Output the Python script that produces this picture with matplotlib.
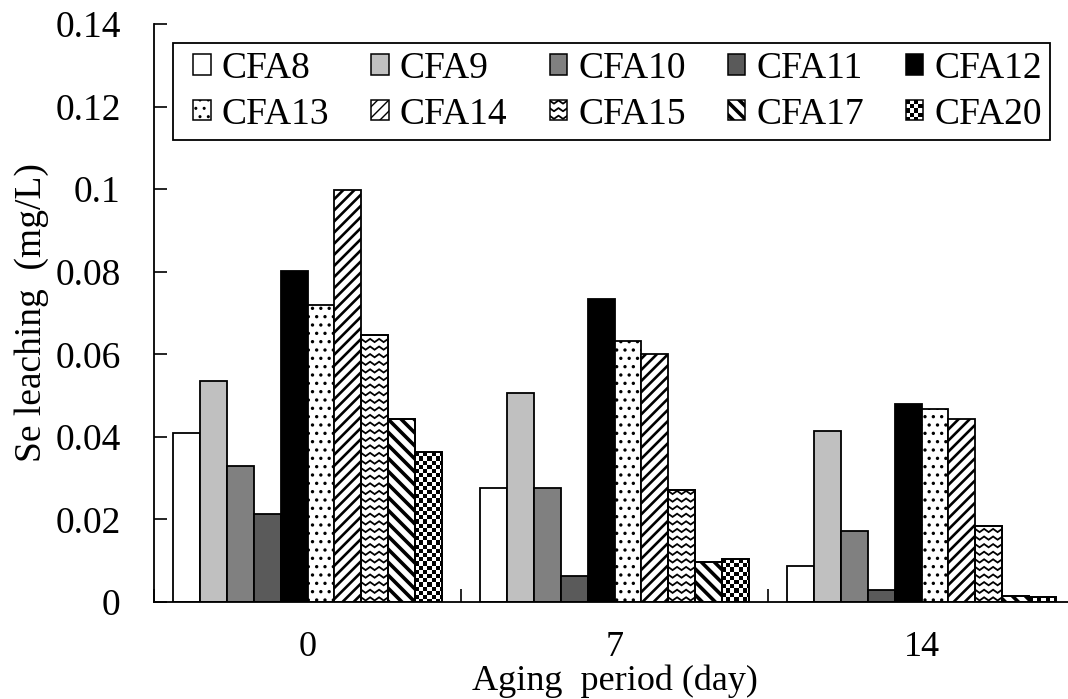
import numpy as np
import matplotlib
matplotlib.use("Agg")
import matplotlib.pyplot as plt
from matplotlib.patches import Rectangle
from matplotlib.collections import PolyCollection
from matplotlib.lines import Line2D
from matplotlib.legend_handler import HandlerBase, HandlerPatch

# ---- data -------------------------------------------------------------
periods = ["0", "7", "14"]
samples = ["CFA8", "CFA9", "CFA10", "CFA11", "CFA12",
           "CFA13", "CFA14", "CFA15", "CFA17", "CFA20"]

cfa8 = [0.041, 0.0277, 0.0088]
cfa9 = [0.0536, 0.0507, 0.0415]
cfa10 = [0.0329, 0.0277, 0.0172]
cfa11 = [0.0214, 0.0064, 0.0029]
cfa12 = [0.0802, 0.0734, 0.048]
cfa13 = [0.0719, 0.0633, 0.0468]
cfa14 = [0.0998, 0.0601, 0.0444]
cfa15 = [0.0647, 0.0271, 0.0184]
cfa17 = [0.0444, 0.0097, 0.0015]
cfa20 = [0.0363, 0.0104, 0.0011]

ytick_values = [0, 0.02, 0.04, 0.06, 0.08, 0.10, 0.12, 0.14]
ytick_labels = ["0", "0.02", "0.04", "0.06", "0.08", "0.1", "0.12", "0.14"]

values = [cfa8, cfa9, cfa10, cfa11, cfa12, cfa13, cfa14, cfa15, cfa17, cfa20]

# fill style per sample: (face colour, builtin hatch, hatch width, drawn pattern)
styles = {
    "CFA8": ("white", None, 1.0, None),
    "CFA9": ("#c0c0c0", None, 1.0, None),
    "CFA10": ("#808080", None, 1.0, None),
    "CFA11": ("#5a5a5a", None, 1.0, None),
    "CFA12": ("black", None, 1.0, None),
    "CFA13": ("white", "..", 1.2, None),
    "CFA14": ("white", "///", 1.9, None),
    "CFA15": ("white", None, 1.0, "zigzag"),
    "CFA17": ("white", None, 1.0, "stripes"),
    "CFA20": ("white", None, 1.0, "checker"),
}

FONT = "Liberation Serif"
FS = 27
FS_X = 26
EDGE_LW = 1.3
DPI = 100

plt.rcParams["font.family"] = [FONT, "DejaVu Serif"]


def pattern_shapes(kind, x0, y0, x1, y1, px):
    """Polylines and squares for the drawn fills, in a frame where one
    pixel is `px` units long."""
    lines, squares = [], []
    cx, cy = (x0 + x1) / 2, (y0 + y1) / 2
    if kind == "zigzag":
        gap, half, amp = 7.6 * px, 4.5 * px, 3.2 * px
        y = y0 + 1.5 * px
        while y < y1 + amp:
            xs = np.arange(x0 - half, x1 + 2 * half, half)
            ys = y + amp * (np.arange(len(xs)) % 2)
            lines.append(np.column_stack([xs, ys]))
            y += gap
    elif kind == "stripes":
        gap = 13 * px
        k0 = int(np.floor((x0 + y0 - cx - cy) / gap)) - 1
        k1 = int(np.ceil((x1 + y1 - cx - cy) / gap)) + 1
        for k in range(k0, k1 + 1):
            c = cx + cy + k * gap
            ya, yb = y0 - gap, y1 + gap
            lines.append(np.array([[c - ya, ya], [c - yb, yb]]))
    elif kind == "checker":
        s = 4.2 * px
        nx = int(np.ceil((x1 - x0) / s)) + 1
        ny = int(np.ceil((y1 - y0) / s)) + 1
        for i in range(nx):
            for j in range(ny):
                if (i + j) % 2 == 0:
                    xa, ya = x0 + i * s, y1 - (j + 1) * s
                    squares.append(np.array([[xa, ya], [xa + s, ya],
                                             [xa + s, ya + s], [xa, ya + s]]))
    return lines, squares


def pattern_lw(kind):
    return {"zigzag": 1.3, "stripes": 2.6}.get(kind, 1.0)


# ---- figure -----------------------------------------------------------
fig = plt.figure(figsize=(10.68, 6.99), dpi=DPI)
ax = fig.add_axes([154 / 1068, 97 / 699, 921 / 1068, 578 / 699])

n = len(samples)
width = 0.873 / n
x = np.arange(len(periods))

ax.set_xlim(-0.5, len(periods) - 0.5)
ax.set_ylim(0, 0.14)
ax.set_autoscale_on(False)

to_data = ax.transData.inverted()

bar_handles = []
for k, (name, vals) in enumerate(zip(samples, values)):
    face, hatch, hatch_lw, kind = styles[name]
    pos = x - 0.873 / 2 + width * (k + 0.5)
    with plt.rc_context({"hatch.linewidth": hatch_lw}):
        bars = ax.bar(pos, vals, width, color=face, edgecolor="black",
                      linewidth=EDGE_LW, hatch=hatch, label=name, zorder=2)
    bar_handles.append(bars.patches[0])
    if kind is None:
        continue
    for b in bars:
        (px0, py0), (px1, py1) = ax.transData.transform(
            [[b.get_x(), b.get_y()], [b.get_x() + b.get_width(), b.get_height()]])
        lines, squares = pattern_shapes(kind, px0, py0, px1, py1, 1.0)
        for ln in lines:
            d = to_data.transform(ln)
            art = Line2D(d[:, 0], d[:, 1], color="black", lw=pattern_lw(kind),
                         solid_joinstyle="miter", zorder=2.5)
            ax.add_line(art)
            art.set_clip_path(b)
        if squares:
            coll = PolyCollection([to_data.transform(sq) for sq in squares],
                                  facecolors="black", edgecolors="none",
                                  zorder=2.5)
            ax.add_collection(coll, autolim=False)
            coll.set_clip_path(b)
        # outline above the pattern
        ax.add_patch(Rectangle((b.get_x(), b.get_y()), b.get_width(),
                               b.get_height(), fill=False, edgecolor="black",
                               linewidth=EDGE_LW, zorder=3))

ax.set_xlim(-0.5, len(periods) - 0.5)
ax.set_ylim(0, 0.14)

# ---- axes styling -----------------------------------------------------
for side in ("top", "right"):
    ax.spines[side].set_visible(False)
for side in ("left", "bottom"):
    ax.spines[side].set_linewidth(1.3)

ax.set_yticks(ytick_values)
ax.set_yticklabels(ytick_labels)
ax.tick_params(axis="y", direction="in", length=9.4, width=1.2, pad=24,
               labelsize=FS)

ax.set_xticks(np.arange(len(periods) + 1) - 0.5)
ax.set_xticklabels([])
ax.set_xticks(x, minor=True)
ax.set_xticklabels(periods, minor=True)
ax.tick_params(axis="x", which="major", direction="in", length=9.4, width=1.2)
ax.tick_params(axis="x", which="minor", length=0, pad=21, labelsize=FS_X)

ax.set_xlabel("Aging  period (day)", fontsize=FS_X, labelpad=0.5)
ax.set_ylabel("Se leaching  (mg/L)", fontsize=FS)
ax.yaxis.set_label_coords(-0.114, 0.5)


# ---- legend -----------------------------------------------------------
class PatternHandler(HandlerBase):
    def __init__(self, kind, **kw):
        super().__init__(**kw)
        self.kind = kind

    def create_artists(self, legend, orig_handle, xdescent, ydescent,
                       width, height, fontsize, trans):
        x0, y0 = -xdescent, -ydescent
        box = Rectangle((x0, y0), width, height, facecolor="white",
                        edgecolor="none", transform=trans)
        arts = [box]
        px = 72.0 / DPI
        lines, squares = pattern_shapes(self.kind, x0, y0, x0 + width,
                                        y0 + height, px)
        for ln in lines:
            art = Line2D(ln[:, 0], ln[:, 1], color="black",
                         lw=pattern_lw(self.kind), transform=trans)
            art.set_clip_path(box)
            arts.append(art)
        if squares:
            coll = PolyCollection(squares, facecolors="black",
                                  edgecolors="none", transform=trans)
            coll.set_clip_path(box)
            arts.append(coll)
        arts.append(Rectangle((x0, y0), width, height, fill=False,
                              edgecolor="black", linewidth=1.1,
                              transform=trans))
        return arts


XPAD = 0.32
handler_map = {}
for name, patch in zip(samples, bar_handles):
    kind = styles[name][3]
    if kind is not None:
        handler_map[patch] = PatternHandler(kind, xpad=XPAD)
    else:
        handler_map[patch] = HandlerPatch(xpad=XPAD)

# two rows of five: matplotlib fills legend columns first
order = [0, 5, 1, 6, 2, 7, 3, 8, 4, 9]
leg = ax.legend([bar_handles[i] for i in order], [samples[i] for i in order],
                handler_map=handler_map, ncol=5, loc="upper left",
                bbox_to_anchor=(173 / 1068, 1 - 43 / 699),
                bbox_transform=fig.transFigure,
                fontsize=FS, handlelength=XPAD + 0.46, handleheight=0.46,
                handletextpad=0.3, columnspacing=0.8, labelspacing=0.3,
                borderpad=0.22, borderaxespad=0, fancybox=False,
                frameon=True, edgecolor="black", framealpha=1)
leg.get_frame().set_linewidth(1.3)
for h in leg.legend_handles:
    if hasattr(h, "set_linewidth"):
        h.set_linewidth(1.1)

fig.savefig("out.png", dpi=DPI)
